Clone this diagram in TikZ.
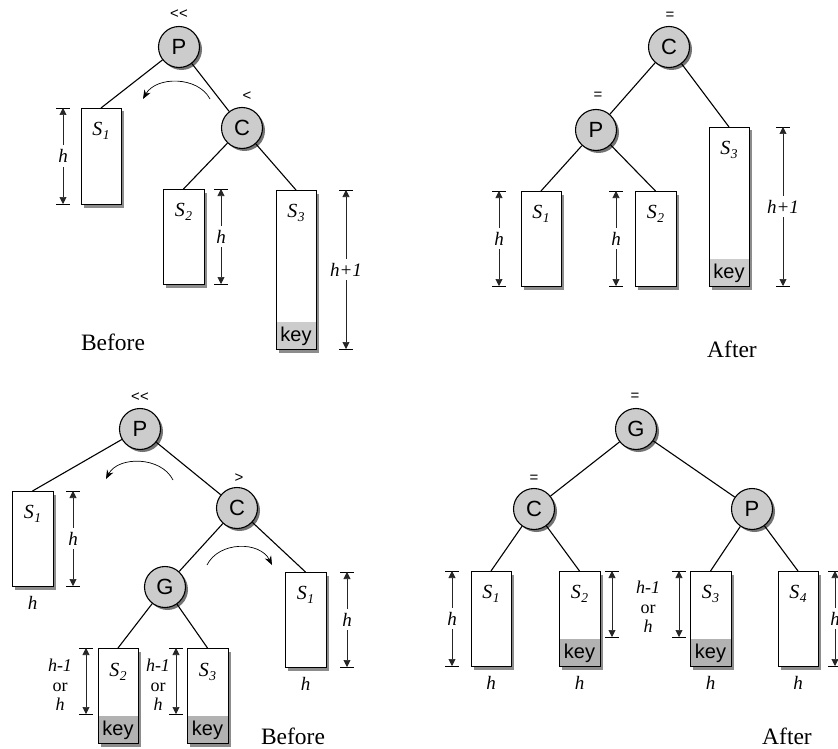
\documentclass[tikz,border=0pt]{standalone}
\usepackage{fontspec}
\setmainfont{Liberation Serif}
\setsansfont{Liberation Sans}
\usetikzlibrary{arrows.meta,shadows}
\newcommand{\Sv}[1]{\textit{S\kern0.5pt\raisebox{-0.4ex}{\fontsize{13.5}{13.5}\selectfont #1}}}
\newcommand{\dimv}[5]{%
  \coordinate (#1t) at (#2,#3); \coordinate (#1b) at (#2,#4);
  \draw[dtick] ([xshift=-7pt]#1t) -- ([xshift=7pt]#1t);
  \draw[dtick] ([xshift=-7pt]#1b) -- ([xshift=7pt]#1b);
  \draw[dimarr] (#1t) -- node[dimlbl] (#1l) {#5} (#1b);}
\newcommand{\dimn}[4]{%
  \coordinate (#1t) at (#2,#3); \coordinate (#1b) at (#2,#4);
  \draw[dtick] ([xshift=-7pt]#1t) -- ([xshift=7pt]#1t);
  \draw[dtick] ([xshift=-7pt]#1b) -- ([xshift=7pt]#1b);
  \draw[dimarr] (#1t) -- (#1b);}
\begin{document}
\begin{tikzpicture}[x=1pt,y=-1pt,
  nd/.style={circle,draw,line width=1.1pt,fill=gray!40,minimum size=41pt,inner sep=0pt,
    font=\sffamily\fontsize{22}{22}\selectfont,
    drop shadow={shadow xshift=2.5pt,shadow yshift=-2.5pt,fill=black!55,opacity=1}},
  tbox/.style={draw,line width=1pt,fill=white,minimum width=40pt,anchor=north,inner sep=0pt,
    drop shadow={shadow xshift=3pt,shadow yshift=-3pt,fill=black!45,opacity=1}},
  kbox/.style={tbox,path picture={\fill[#1] ([yshift=28pt]path picture bounding box.south west) rectangle (path picture bounding box.south east);}},
  lnk/.style={line width=1.1pt},
  sym/.style={font=\sffamily\fontsize{15}{15}\selectfont,inner sep=0pt},
  slbl/.style={font=\fontsize{20}{20}\selectfont,inner sep=0pt},
  keyt/.style={font=\sffamily\fontsize{20}{20}\selectfont,inner sep=0pt},
  hlbl/.style={font=\itshape\fontsize{19}{19}\selectfont,inner sep=0pt},
  orlbl/.style={font=\fontsize{18}{19.5}\selectfont,align=center,inner sep=0pt},
  captxt/.style={font=\fontsize{23.5}{23.5}\selectfont,inner sep=0pt},
  dtick/.style={line width=0.7pt},
  dimarr/.style={{Triangle[length=7pt,width=7pt]}-{Triangle[length=7pt,width=7pt]},line width=0.6pt,draw=black!85},
  dimlbl/.style={fill=white,inner xsep=2pt,inner ysep=4pt,font=\itshape\fontsize{19}{19}\selectfont},
  curv/.style={-{Stealth[length=9pt,width=7pt]},line width=0.7pt}]
\useasboundingbox (0,0) rectangle (838,749);

% ---------------- top left ----------------
\node[sym] (tlq) at (179,14) {<{}<};
\node[nd] (tlP) at (179,47) {P};
\node[sym] (tlr) at (247,96) {<};
\node[nd] (tlC) at (242,128) {C};
\node[tbox,minimum height=96pt] (tlS1) at (101,108) {};
\node[tbox,minimum height=95pt,minimum width=41pt] (tlS2) at (183.5,189) {};
\node[kbox=gray!40,minimum height=159pt] (tlS3) at (296,190) {};
\node[slbl] (tlS1l) at ([yshift=-23pt]tlS1.north) {\Sv{1}};
\node[slbl] (tlS2l) at ([yshift=-23pt]tlS2.north) {\Sv{2}};
\node[slbl] (tlS3l) at ([yshift=-23pt]tlS3.north) {\Sv{3}};
\node[keyt] (tlk) at ([yshift=14pt]tlS3.south) {key};
\draw[lnk] (tlP) -- (tlS1.north);
\draw[lnk] (tlP) -- (tlC);
\draw[lnk] (tlC) -- (tlS2.north);
\draw[lnk] (tlC) -- (tlS3.north);
\dimv{tld1}{63}{108}{204}{h}
\dimv{tld2}{221}{189}{284}{h}
\dimv{tld3}{346}{190}{349}{h+1}
\coordinate (tla1) at (210,99);
\coordinate (tla2) at (143,99);
\draw[curv] (tla1) .. controls (198,76) and (156,76) .. (tla2);
\node[captxt] (tlcap) at (113,342) {Before};

% ---------------- top right ----------------
\node[sym] (trq) at (670,16) {=};
\node[nd] (trC) at (669,47) {C};
\node[sym] (trq2) at (598,96) {=};
\node[nd] (trP) at (596,130) {P};
\node[tbox,minimum height=95pt] (trS1) at (541,191) {};
\node[tbox,minimum height=95pt,minimum width=41pt] (trS2) at (655.5,191) {};
\node[kbox=gray!40,minimum height=159pt] (trS3) at (729,127) {};
\node[slbl] (trS1l) at ([yshift=-23pt]trS1.north) {\Sv{1}};
\node[slbl] (trS2l) at ([yshift=-23pt]trS2.north) {\Sv{2}};
\node[slbl] (trS3l) at ([yshift=-23pt]trS3.north) {\Sv{3}};
\node[keyt] (trk) at ([yshift=14pt]trS3.south) {key};
\draw[lnk] (trC) -- (trP);
\draw[lnk] (trC) -- (trS3.north);
\draw[lnk] (trP) -- (trS1.north);
\draw[lnk] (trP) -- (trS2.north);
\dimv{trd1}{499}{191}{286}{h}
\dimv{trd2}{616}{191}{286}{h}
\dimv{trd3}{783}{127}{286}{h+1}
\node[captxt] (trcap) at (732,349) {After};

% ---------------- bottom left ----------------
\node[sym] (blq) at (140,397) {<{}<};
\node[nd] (blP) at (140,429) {P};
\node[sym] (blr) at (239,478) {>};
\node[nd] (blC) at (237,508) {C};
\node[nd] (blG) at (165,587) {G};
\node[tbox,minimum height=95pt,minimum width=41pt] (blS1) at (32.5,491) {};
\node[tbox,minimum height=95pt,minimum width=41pt] (blS4) at (305.5,572) {};
\node[kbox=gray!60,minimum height=95pt] (blS2) at (118,648) {};
\node[kbox=gray!60,minimum height=95pt,minimum width=41pt] (blS3) at (207.5,648) {};
\node[slbl] (blS1l) at ([yshift=-23pt]blS1.north) {\Sv{1}};
\node[slbl] (blS4l) at ([yshift=-23pt]blS4.north) {\Sv{1}};
\node[slbl] (blS2l) at ([yshift=-24pt]blS2.north) {\Sv{2}};
\node[slbl] (blS3l) at ([yshift=-24pt]blS3.north) {\Sv{3}};
\node[keyt] (blk2) at ([yshift=14pt]blS2.south) {key};
\node[keyt] (blk3) at ([yshift=14pt]blS3.south) {key};
\node[hlbl] (blh1) at ([yshift=-16pt]blS1.south) {h};
\node[hlbl] (blh4) at ([yshift=-16pt]blS4.south) {h};
\draw[lnk] (blP) -- (blS1.north);
\draw[lnk] (blP) -- (blC);
\draw[lnk] (blC) -- (blG);
\draw[lnk] (blC) -- (blS4.north);
\draw[lnk] (blG) -- (blS2.north);
\draw[lnk] (blG) -- (blS3.north);
\dimv{bld1}{73}{491}{586}{h}
\dimv{bld4}{347}{572}{667}{h}
\dimn{bld2}{86}{648}{714}
\dimn{bld3}{176}{648}{714}
\node[orlbl] (blo2) at (60,685) {\textit{h-1}\\or\\\textit{h}};
\node[orlbl] (blo3) at (158,685) {\textit{h-1}\\or\\\textit{h}};
\coordinate (bla1) at (173,480);
\coordinate (bla2) at (106,479);
\draw[curv] (bla1) .. controls (161,456) and (118,456) .. (bla2);
\coordinate (blb1) at (207,565);
\coordinate (blb2) at (272,565);
\draw[curv] (blb1) .. controls (219,541) and (260,541) .. (blb2);
\node[captxt] (blcap) at (293,736) {Before};

% ---------------- bottom right ----------------
\node[sym] (brq) at (635,397) {=};
\node[nd] (brG) at (636,429) {G};
\node[sym] (brq2) at (534,479) {=};
\node[nd] (brC) at (534,509) {C};
\node[nd] (brP) at (752,509) {P};
\node[tbox,minimum height=95pt] (brS1) at (491,571) {};
\node[kbox=gray!60,minimum height=95pt,minimum width=41pt] (brS2) at (579.5,571) {};
\node[kbox=gray!60,minimum height=95pt,minimum width=41pt] (brS3) at (710.5,571) {};
\node[tbox,minimum height=95pt] (brS4) at (798,571) {};
\node[slbl] (brS1l) at ([yshift=-23pt]brS1.north) {\Sv{1}};
\node[slbl] (brS2l) at ([yshift=-23pt]brS2.north) {\Sv{2}};
\node[slbl] (brS3l) at ([yshift=-23pt]brS3.north) {\Sv{3}};
\node[slbl] (brS4l) at ([yshift=-23pt]brS4.north) {\Sv{4}};
\node[keyt] (brk2) at ([yshift=14pt]brS2.south) {key};
\node[keyt] (brk3) at ([yshift=14pt]brS3.south) {key};
\node[hlbl] (brh1) at ([yshift=-16pt]brS1.south) {h};
\node[hlbl] (brh2) at ([yshift=-16pt]brS2.south) {h};
\node[hlbl] (brh3) at ([yshift=-16pt]brS3.south) {h};
\node[hlbl] (brh4) at ([yshift=-16pt]brS4.south) {h};
\draw[lnk] (brG) -- (brC);
\draw[lnk] (brG) -- (brP);
\draw[lnk] (brC) -- (brS1.north);
\draw[lnk] (brC) -- (brS2.north);
\draw[lnk] (brP) -- (brS3.north);
\draw[lnk] (brP) -- (brS4.north);
\dimv{brd1}{452}{571}{666}{h}
\dimn{brd2}{612}{571}{637}
\dimn{brd3}{679}{571}{637}
\dimv{brd4}{835}{571}{666}{h}
\node[orlbl] (bro) at (648,607) {\textit{h-1}\\or\\\textit{h}};
\node[captxt] (brcap) at (787,736) {After};
\end{tikzpicture}
\end{document}
